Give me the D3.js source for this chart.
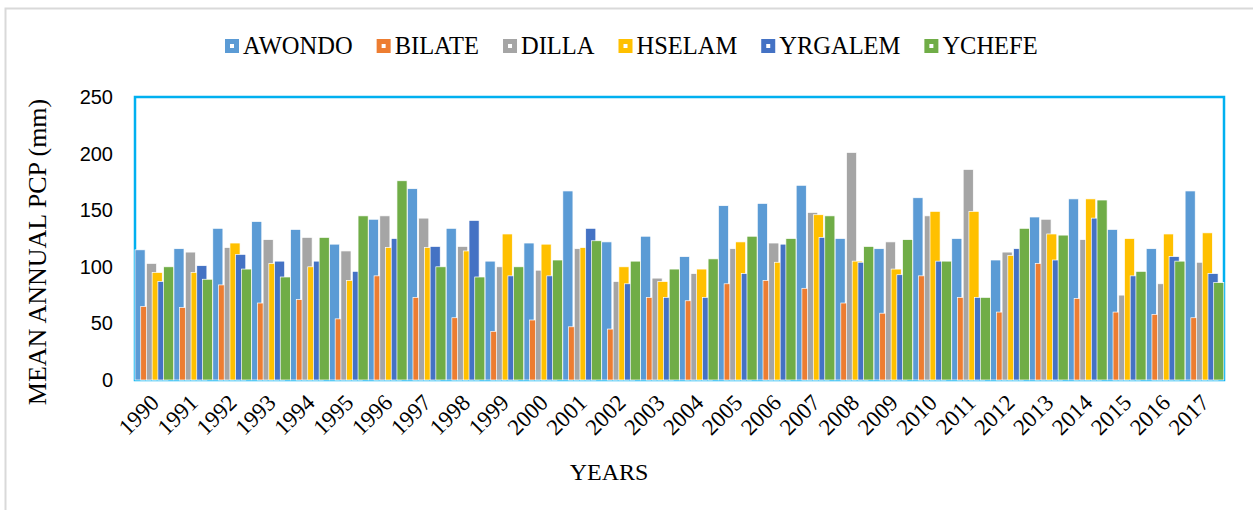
<!DOCTYPE html>
<html>
<head>
    <meta charset="UTF-8"/>
    <style>
        body {
            margin: 0;
            background: white;
        }
        svg text {
            fill: #000;
        }
    </style>
</head>
<body>
<!-- Load d3.js -->
<script src="https://d3js.org/d3.v7.min.js"></script>
<div id="my_dataviz"></div>

<script>

    // categories and series (mean annual PCP, mm)
    var years = ["1990","1991","1992","1993","1994","1995","1996","1997","1998","1999",
                 "2000","2001","2002","2003","2004","2005","2006","2007","2008","2009",
                 "2010","2011","2012","2013","2014","2015","2016","2017"];

    var stations = ["AWONDO", "BILATE", "DILLA", "HSELAM", "YRGALEM", "YCHEFE"];

    var awondo  = [115,116,134,140,133,120,142,169,134,105,121,167,122,127,109,154,156,172,125,116,161,125,106,144,160,133,116,167];
    var bilate  = [65,64,84,68,71,54,92,73,55,43,53,47,45,73,70,85,88,81,68,59,92,73,60,103,72,60,58,55];
    var dilla   = [103,113,117,124,126,114,145,143,118,100,97,116,87,90,94,116,121,148,201,122,145,186,113,142,124,75,85,104];
    var hselam  = [95,95,121,103,100,88,117,117,114,129,120,117,100,87,98,122,104,146,105,98,149,149,110,129,160,125,129,130];
    var yrgalem = [87,101,111,105,105,96,125,118,141,92,92,134,85,73,73,94,120,126,104,93,105,73,116,106,143,92,109,94];
    var ychefe  = [100,89,98,91,126,145,176,100,91,100,106,123,105,98,107,127,125,145,118,124,105,73,134,128,159,96,105,86];

    var series = [awondo, bilate, dilla, hselam, yrgalem, ychefe];
    var colors = ["#5B9BD5", "#ED7D31", "#A5A5A5", "#FFC000", "#4472C4", "#70AD47"];

    var yTicks = [0, 50, 100, 150, 200, 250];

    // plot area
    var width = 1253, height = 510;
    var plotLeft = 135, plotRight = 1224, plotTop = 97, plotBottom = 380;

    var svg = d3.select("#my_dataviz")
        .append("svg")
        .attr("width", width)
        .attr("height", height);

    // outer chart border (only top/left visible in the picture)
    svg.append("rect")
        .attr("x", 5.5).attr("y", 8.5)
        .attr("width", 1300).attr("height", 600)
        .style("fill", "white")
        .style("stroke", "#d9d9d9")
        .style("stroke-width", 2);

    var x0 = d3.scaleBand()
        .domain(years)
        .range([plotLeft, plotRight])
        .padding(0);

    var y = d3.scaleLinear()
        .domain([0, 250])
        .range([plotBottom, plotTop]);

    var bw = x0.bandwidth();
    var barW = bw * 0.26;
    var step = bw * 0.147;

    // plot frame
    svg.append("rect")
        .attr("x", plotLeft).attr("y", plotTop)
        .attr("width", plotRight - plotLeft).attr("height", plotBottom - plotTop)
        .style("fill", "none")
        .style("stroke", "#00B0F0")
        .style("stroke-width", 2.5);

    // bars, one series at a time so later ones overlap earlier ones
    series.forEach(function(vals, i) {
        svg.append("g")
            .selectAll("rect")
            .data(vals)
            .enter()
            .append("rect")
            .attr("x", function(d, j) { return x0(years[j]) + i * step; })
            .attr("y", function(d) { return y(d); })
            .attr("width", barW)
            .attr("height", function(d) { return y(0) - y(d); })
            .style("fill", colors[i])
            .style("stroke", "white")
            .style("stroke-width", 0.7);
    });

    // y axis tick labels
    svg.append("g")
        .selectAll("text")
        .data(yTicks)
        .enter()
        .append("text")
        .attr("x", 113)
        .attr("y", function(d) { return y(d); })
        .attr("dy", "0.35em")
        .attr("text-anchor", "end")
        .style("font-family", "'Liberation Sans', Arial, sans-serif")
        .style("font-size", "20px")
        .text(function(d) { return d; });

    // x axis tick labels (rotated)
    svg.append("g")
        .selectAll("text")
        .data(years)
        .enter()
        .append("text")
        .attr("text-anchor", "end")
        .attr("transform", function(d) {
            return "translate(" + (x0(d) + bw / 2 + 6) + "," + 404 + ") rotate(-45)";
        })
        .style("font-family", "'Liberation Serif', 'Times New Roman', serif")
        .style("font-size", "23px")
        .text(function(d) { return d; });

    // axis titles
    svg.append("text")
        .attr("transform", "translate(46,252) rotate(-90)")
        .attr("text-anchor", "middle")
        .style("font-family", "'Liberation Serif', 'Times New Roman', serif")
        .style("font-size", "26px")
        .text("MEAN ANNUAL PCP (mm)");

    svg.append("text")
        .attr("x", 609)
        .attr("y", 480)
        .attr("text-anchor", "middle")
        .style("font-family", "'Liberation Serif', 'Times New Roman', serif")
        .style("font-size", "24px")
        .text("YEARS");

    // legend
    var legend = svg.append("g");
    var lx = 225;
    stations.forEach(function(name, i) {
        var g = legend.append("g").attr("transform", "translate(" + lx + ",0)");
        g.append("rect")
            .attr("x", 0).attr("y", 39)
            .attr("width", 14).attr("height", 14)
            .style("fill", colors[i]);
        g.append("rect")
            .attr("x", 5).attr("y", 44)
            .attr("width", 4).attr("height", 4)
            .style("fill", "white");
        var t = g.append("text")
            .attr("x", 18)
            .attr("y", 54)
            .style("font-family", "'Liberation Serif', 'Times New Roman', serif")
            .style("font-size", "24.5px")
            .text(name);
        lx += 18 + t.node().getComputedTextLength() + 24;
    });

</script>
</body>
</html>
